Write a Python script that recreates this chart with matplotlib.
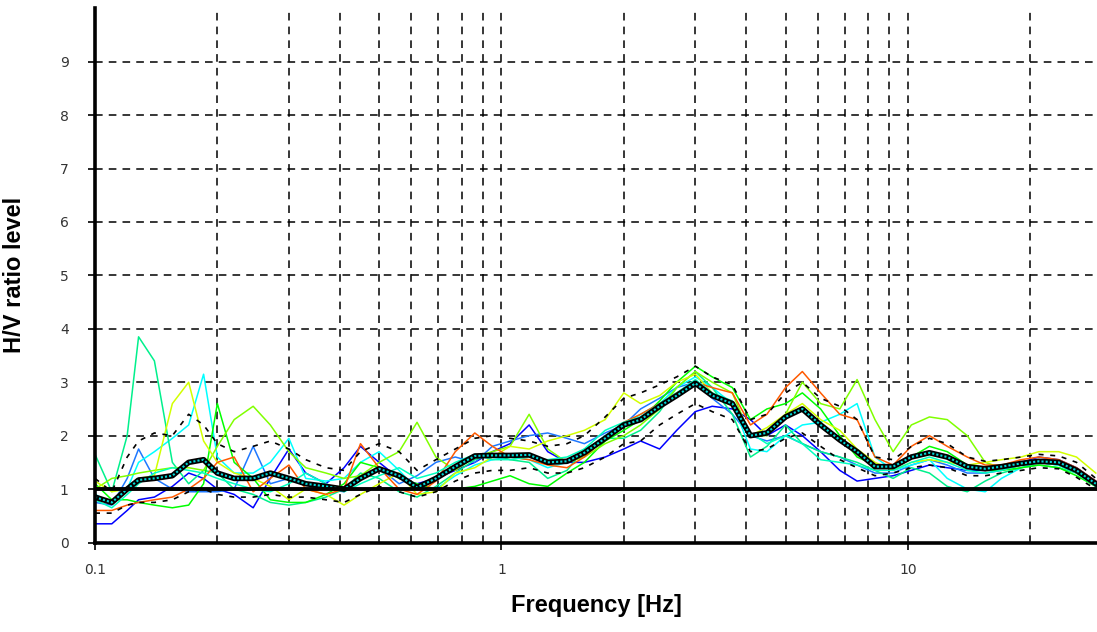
import matplotlib
matplotlib.use("Agg")
import matplotlib.pyplot as plt
from matplotlib.ticker import FixedLocator, NullFormatter

# frequencies of the spectral points (Hz)
freq = [0.10, 0.11, 0.12, 0.128, 0.14, 0.155, 0.17, 0.185, 0.20, 0.22,
        0.245, 0.27, 0.30, 0.33, 0.37, 0.41, 0.45, 0.50, 0.56, 0.62,
        0.69, 0.77, 0.86, 0.95, 1.05, 1.17, 1.3, 1.45, 1.6, 1.8,
        2.0, 2.2, 2.45, 2.7, 3.0, 3.3, 3.7, 4.1, 4.5, 5.0,
        5.5, 6.1, 6.8, 7.5, 8.3, 9.2, 10.2, 11.3, 12.5, 14,
        15.5, 17, 19, 21, 23.5, 26, 29]

# average H/V curve and +/- standard deviation curves
hv_mean = [0.85, 0.75, 1.0, 1.17, 1.2, 1.25, 1.5, 1.55, 1.3, 1.2,
           1.2, 1.3, 1.2, 1.1, 1.05, 1.0, 1.2, 1.38, 1.25, 1.03,
           1.2, 1.42, 1.62, 1.63, 1.63, 1.64, 1.5, 1.52, 1.68, 1.95,
           2.2, 2.3, 2.55, 2.75, 2.98, 2.75, 2.6, 2.0, 2.05, 2.35,
           2.5, 2.2, 1.92, 1.7, 1.42, 1.42, 1.6, 1.68, 1.6, 1.42,
           1.38, 1.42, 1.48, 1.52, 1.5, 1.35, 1.1]
hv_upper = [1.2, 0.95, 1.6, 1.9, 2.05, 2.0, 2.4, 2.2, 1.85, 1.7,
            1.8, 1.9, 1.75, 1.55, 1.4, 1.35, 1.7, 1.85, 1.7, 1.35,
            1.55, 1.75, 1.95, 2.0, 1.95, 1.9, 1.8, 1.85, 2.0, 2.35,
            2.7, 2.8, 2.95, 3.1, 3.3, 3.1, 2.95, 2.3, 2.4, 2.8,
            3.0, 2.7, 2.55, 2.3, 1.6, 1.55, 1.8, 1.95, 1.85, 1.6,
            1.52, 1.55, 1.6, 1.65, 1.62, 1.5, 1.2]
hv_lower = [0.55, 0.55, 0.7, 0.75, 0.75, 0.8, 0.95, 1.0, 0.9, 0.85,
            0.85, 0.9, 0.85, 0.85, 0.8, 0.75, 0.9, 1.05, 0.95, 0.85,
            0.95, 1.15, 1.3, 1.35, 1.35, 1.4, 1.3, 1.3, 1.4, 1.6,
            1.85, 1.9, 2.2, 2.4, 2.6, 2.45, 2.3, 1.7, 1.75, 1.95,
            2.05, 1.8, 1.55, 1.4, 1.25, 1.3, 1.4, 1.45, 1.4, 1.25,
            1.25, 1.3, 1.35, 1.4, 1.38, 1.22, 1.0]

# single window H/V curves
win_blue = [0.35, 0.35, 0.6, 0.8, 0.85, 1.05, 1.3, 1.2, 1.0, 0.9,
            0.65, 1.2, 1.75, 1.3, 1.1, 1.4, 1.8, 1.5, 1.2, 1.1,
            1.2, 1.35, 1.5, 1.7, 1.85, 2.2, 1.7, 1.5, 1.5, 1.6,
            1.75, 1.9, 1.75, 2.1, 2.45, 2.55, 2.5, 2.3, 2.0, 2.2,
            2.0, 1.7, 1.35, 1.15, 1.2, 1.25, 1.35, 1.45, 1.4, 1.35,
            1.35, 1.4, 1.5, 1.6, 1.55, 1.4, 1.15]
win_azure = [0.75, 0.7, 1.2, 1.75, 1.2, 1.0, 0.95, 0.95, 0.95, 1.0,
             1.8, 1.1, 1.2, 1.1, 1.0, 0.95, 1.2, 1.4, 1.1, 1.25,
             1.5, 1.6, 1.5, 1.8, 1.9, 2.0, 2.05, 1.95, 1.85, 2.05,
             2.2, 2.5, 2.7, 2.9, 3.0, 2.7, 2.4, 2.0, 1.9, 2.0,
             1.85, 1.7, 1.6, 1.45, 1.3, 1.3, 1.45, 1.55, 1.45, 1.3,
             1.3, 1.35, 1.45, 1.5, 1.45, 1.3, 1.1]
win_cyan = [0.9, 0.75, 1.0, 1.5, 1.7, 1.95, 2.2, 3.15, 1.6, 1.3,
            1.3, 1.5, 1.95, 1.2, 1.15, 1.2, 1.5, 1.7, 1.35, 1.0,
            1.0, 1.25, 1.45, 1.55, 1.6, 1.55, 1.4, 1.5, 1.7, 2.0,
            2.2, 2.4, 2.6, 2.9, 3.1, 2.9, 2.6, 1.75, 1.7, 2.0,
            2.2, 2.25, 2.4, 2.6, 1.6, 1.35, 1.45, 1.55, 1.2, 1.0,
            0.95, 1.2, 1.4, 1.5, 1.45, 1.35, 1.1]
win_spring = [1.65, 0.95, 2.0, 3.85, 3.4, 1.5, 1.1, 1.35, 1.3, 1.0,
              0.9, 0.75, 0.7, 0.75, 0.85, 1.0, 1.3, 1.2, 0.95, 0.85,
              1.05, 1.3, 1.55, 1.65, 1.55, 1.5, 1.2, 1.35, 1.75, 1.95,
              1.95, 2.1, 2.45, 2.9, 3.2, 2.9, 2.4, 1.6, 1.8, 2.2,
              1.85, 1.7, 1.6, 1.5, 1.35, 1.2, 1.4, 1.3, 1.05, 0.95,
              1.15, 1.3, 1.4, 1.45, 1.4, 1.3, 1.05]
win_green = [1.1, 0.8, 0.8, 0.75, 0.7, 0.65, 0.7, 1.1, 2.6, 1.5,
             1.2, 0.8, 0.75, 0.75, 0.9, 1.1, 1.5, 1.4, 1.2, 1.1,
             1.0, 1.0, 1.05, 1.15, 1.25, 1.1, 1.05, 1.3, 1.5, 1.9,
             2.1, 2.3, 2.65, 3.0, 3.3, 3.1, 2.9, 2.3, 2.5, 2.6,
             2.8, 2.5, 2.0, 1.6, 1.45, 1.4, 1.6, 1.8, 1.7, 1.45,
             1.35, 1.35, 1.4, 1.45, 1.4, 1.25, 1.05]
win_chart = [1.0, 1.2, 1.25, 1.3, 1.35, 1.4, 1.4, 1.35, 1.8, 2.3,
             2.55, 2.2, 1.7, 1.4, 1.3, 1.2, 1.25, 1.5, 1.7, 2.25,
             1.6, 1.35, 1.6, 1.7, 1.8, 2.4, 1.75, 1.5, 1.6, 1.85,
             2.0, 2.2, 2.5, 2.9, 3.2, 3.0, 2.8, 2.0, 2.0, 2.4,
             3.0, 2.6, 2.5, 3.05, 2.3, 1.7, 2.2, 2.35, 2.3, 2.0,
             1.5, 1.4, 1.45, 1.55, 1.5, 1.3, 1.1]
win_yellow = [1.15, 0.95, 1.0, 1.2, 1.25, 2.6, 3.0, 1.9, 1.5, 1.3,
              1.2, 1.05, 0.8, 1.0, 0.9, 0.7, 0.9, 1.1, 1.3, 0.9,
              0.95, 1.3, 1.4, 1.6, 1.8, 1.75, 1.9, 2.0, 2.1, 2.3,
              2.8, 2.6, 2.75, 3.0, 3.15, 2.8, 2.55, 2.0, 2.15, 2.4,
              2.6, 2.3, 2.1, 1.75, 1.5, 1.35, 1.5, 1.55, 1.5, 1.45,
              1.5, 1.55, 1.6, 1.7, 1.7, 1.6, 1.3]
win_orange = [0.6, 0.6, 0.7, 0.75, 0.8, 0.85, 1.0, 1.2, 1.5, 1.6,
              0.95, 1.2, 1.45, 1.0, 0.9, 1.0, 1.85, 1.4, 1.0, 0.9,
              1.15, 1.7, 2.05, 1.8, 1.6, 1.55, 1.45, 1.4, 1.6, 1.95,
              2.25, 2.4, 2.6, 2.8, 3.0, 2.9, 2.8, 2.2, 2.4, 2.9,
              3.2, 2.8, 2.4, 2.3, 1.6, 1.45, 1.8, 2.0, 1.8, 1.6,
              1.45, 1.45, 1.55, 1.6, 1.55, 1.4, 1.15]
win_teal = [0.8, 0.65, 0.9, 1.1, 1.3, 1.4, 1.35, 1.3, 1.2, 1.1,
            1.0, 0.95, 1.1, 1.3, 1.1, 0.95, 1.1, 1.25, 1.4, 1.2,
            1.3, 1.5, 1.65, 1.55, 1.55, 1.6, 1.55, 1.6, 1.75, 2.1,
            2.25, 2.35, 2.6, 2.8, 3.05, 2.8, 2.65, 2.05, 1.85, 2.0,
            1.85, 1.55, 1.5, 1.45, 1.35, 1.35, 1.5, 1.6, 1.5, 1.35,
            1.3, 1.35, 1.45, 1.5, 1.45, 1.3, 1.05]

windows = [win_blue, win_azure, win_cyan, win_spring, win_green,
           win_chart, win_yellow, win_orange, win_teal]
win_colors = ['#0000ff', '#1e78ff', '#00ffff', '#00f08c', '#00ff00',
              '#80ff00', '#d2ff00', '#ff5a00', '#00ffc0']

fig = plt.figure(figsize=(10.97, 6.32), dpi=100)
ax = fig.add_axes([0.0866, 0.1416, 0.9134, 0.8454])

dash = (0, (5, 4))
for w, c in zip(windows, win_colors):
    ax.plot(freq, w, color=c, lw=1.1, zorder=3)

ax.plot(freq, hv_upper, color='black', lw=1.2, ls=(0, (3, 4)), zorder=4)
ax.plot(freq, hv_lower, color='black', lw=1.2, ls=(0, (3, 4)), zorder=4)
ax.plot(freq, hv_mean, color='black', lw=4, zorder=5)
ax.plot(freq, hv_mean, color='#00d8d8', lw=1.5, ls=(0, (1, 1)), zorder=6)
ax.axhline(1, color='black', lw=2.8, zorder=7)

ax.set_xscale('log')
ax.set_xlim(0.1, 29.2)
ax.set_ylim(0, 10)

ax.set_yticks(range(10))
ax.xaxis.set_major_locator(FixedLocator([0.1, 1, 10]))
ax.set_xticklabels(['0.1', '1', '10'])
minors = [m * d for d in (0.1, 1, 10) for m in range(2, 10)]
ax.xaxis.set_minor_locator(FixedLocator(minors))
ax.xaxis.set_minor_formatter(NullFormatter())

ax.grid(True, which='major', axis='y', color='black', lw=1.1, ls=dash)
ax.grid(True, which='both', axis='x', color='black', lw=1.1, ls=dash)
ax.set_axisbelow(True)

for s in ('top', 'right'):
    ax.spines[s].set_visible(False)
for s in ('left', 'bottom'):
    ax.spines[s].set_linewidth(2.6)
    ax.spines[s].set_zorder(8)

label_font = ['Liberation Sans', 'DejaVu Sans']
ax.tick_params(axis='both', which='major', length=5, width=1.2,
               labelsize=10, labelcolor='#333333')
ax.tick_params(axis='x', which='minor', length=0)
ax.tick_params(axis='x', pad=10)
ax.tick_params(axis='y', pad=14)
for lab in ax.get_xticklabels() + ax.get_yticklabels():
    lab.set_family(['DejaVu Sans'])

ax.set_xlabel('Frequency [Hz]', fontsize=17, fontweight='bold',
              family=label_font, labelpad=12)
ax.set_ylabel('H/V ratio level', fontsize=17, fontweight='bold',
              family=label_font, labelpad=24)

fig.savefig('out.png', dpi=100)
